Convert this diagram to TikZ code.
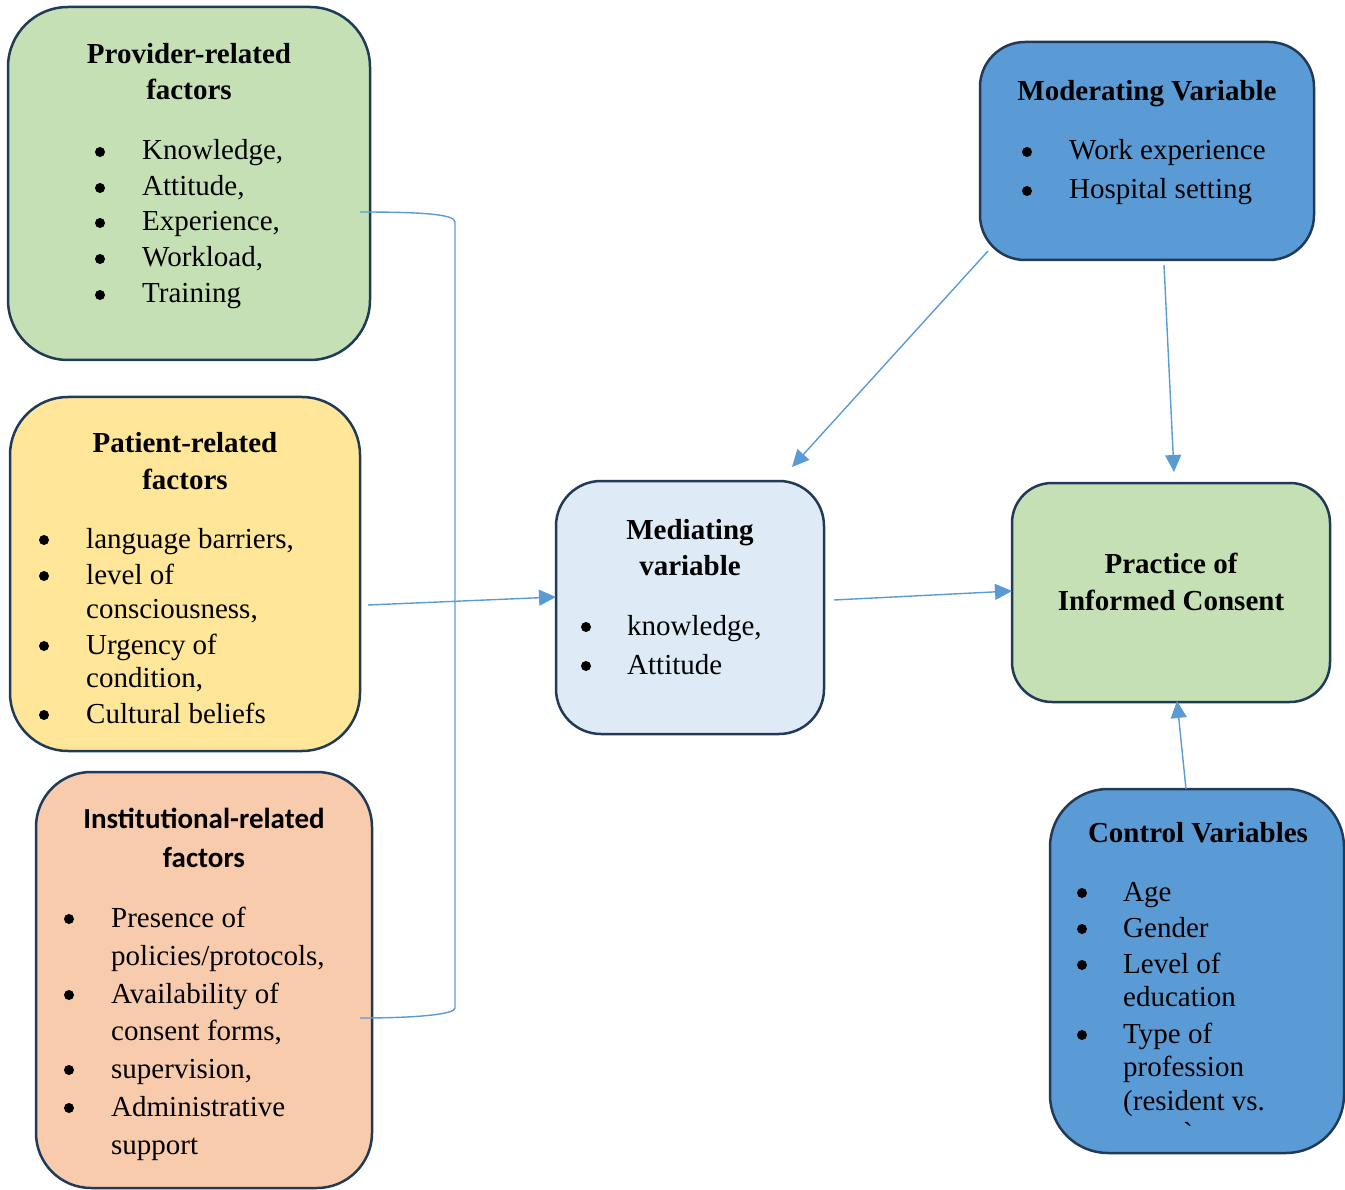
\documentclass[tikz,border=0pt]{standalone}
\usepackage{fontspec}
\setmainfont{Liberation Serif}
\newfontfamily\calibri{Carlito}
\usetikzlibrary{arrows.meta}
\definecolor{bordc}{HTML}{203A57}
\definecolor{lnk}{HTML}{5B9BD5}
\definecolor{gr}{HTML}{C5E0B4}
\definecolor{ye}{HTML}{FFE699}
\definecolor{pe}{HTML}{F8CBAD}
\definecolor{lb}{HTML}{DEEBF7}
\definecolor{mb}{HTML}{5B9BD5}
\tikzset{
  box/.style={draw=bordc, line width=2.5pt, inner sep=0pt},
  txt/.style={anchor=base west, inner sep=0pt, font=\fontsize{29}{36}\selectfont},
  hd/.style={anchor=base, inner sep=0pt, font=\fontsize{29}{36}\selectfont\bfseries},
  hdc/.style={anchor=base, inner sep=0pt, font=\fontsize{29}{36}\selectfont\calibri\bfseries},
  bul/.style={circle, fill=black, inner sep=0pt, minimum size=10pt, yshift=8pt},
  conn/.style={draw=lnk, line width=1.4pt},
  arr/.style={conn, -{Triangle[length=17pt,width=16pt]}}
}
\begin{document}
\begin{tikzpicture}[x=1pt,y=-1pt]
\useasboundingbox (0,0) rectangle (1345,1190);
% boxes
\node[box, fill=gr, rounded corners=60pt, minimum width=362pt, minimum height=353pt] (prov) at (189,183.5) {};
\node[box, fill=ye, rounded corners=58pt, minimum width=350pt, minimum height=354pt] (pat) at (185,574) {};
\node[box, fill=pe, rounded corners=55pt, minimum width=336pt, minimum height=416pt] (inst) at (204,980) {};
\node[box, fill=lb, rounded corners=45pt, minimum width=268pt, minimum height=253pt] (med) at (690,607.5) {};
\node[box, fill=mb, rounded corners=45pt, minimum width=334pt, minimum height=218pt] (mod) at (1147,151) {};
\node[box, fill=gr, rounded corners=40pt, minimum width=318pt, minimum height=219pt] (prac) at (1171,592.5) {};
\node[box, fill=mb, rounded corners=58pt, minimum width=294pt, minimum height=364pt] (ctrl) at (1197,971) {};

% provider text
\node[hd] (p-h1) at (189,64) {Provider-related};
\node[hd] (p-h2) at (189,100) {factors};
\foreach \yy/\t [count=\i] in {160/Knowledge{,}, 196/Attitude{,}, 231/Experience{,}, 267/Workload{,}, 303/Training}{
  \node[bul] (p-b\i) at (100,\yy) {};
  \node[txt] (p-t\i) at (142,\yy) {\t};
}

% patient text
\node[hd] (pa-h1) at (185,452) {Patient-related};
\node[hd] (pa-h2) at (185,489) {factors};
\node[bul] (pa-b1) at (44,548) {};
\node[bul] (pa-b2) at (44,584) {};
\node[bul] (pa-b3) at (44,654) {};
\node[bul] (pa-b4) at (44,723) {};
\node[txt] (pa-t1) at (86,548) {language barriers,};
\node[txt] (pa-t2) at (86,584) {level of};
\node[txt] (pa-t3) at (86,618) {consciousness,};
\node[txt] (pa-t4) at (86,654) {Urgency of};
\node[txt] (pa-t5) at (86,687) {condition,};
\node[txt] (pa-t6) at (86,723) {Cultural beliefs};

% institutional text
\node[hdc] (i-h1) at (204,828) {Institutional-related};
\node[hdc] (i-h2) at (204,867) {factors};
\node[bul] (i-b1) at (69,927) {};
\node[bul] (i-b2) at (69,1003) {};
\node[bul] (i-b3) at (69,1078) {};
\node[bul] (i-b4) at (69,1116) {};
\node[txt] (i-t1) at (111,927) {Presence of};
\node[txt] (i-t2) at (111,965) {policies/protocols,};
\node[txt] (i-t3) at (111,1003) {Availability of};
\node[txt] (i-t4) at (111,1040) {consent forms,};
\node[txt] (i-t5) at (111,1078) {supervision,};
\node[txt] (i-t6) at (111,1116) {Administrative};
\node[txt] (i-t7) at (111,1154) {support};

% mediating
\node[hd] (m-h1) at (690,539) {Mediating};
\node[hd] (m-h2) at (690,575) {variable};
\node[bul] (m-b1) at (586,635) {};
\node[bul] (m-b2) at (586,674) {};
\node[txt] (m-t1) at (627,635) {knowledge,};
\node[txt] (m-t2) at (627,674) {Attitude};

% moderating
\node[hd] (mo-h1) at (1147,101) {Moderating Variable};
\node[bul] (mo-b1) at (1027,160) {};
\node[bul] (mo-b2) at (1027,199) {};
\node[txt] (mo-t1) at (1069,160) {Work experience};
\node[txt] (mo-t2) at (1069,199) {Hospital setting};

% practice
\node[hd] (pr-h1) at (1171,573) {Practice of};
\node[hd] (pr-h2) at (1171,610) {Informed Consent};

% control
\node[hd] (c-h1) at (1198,842) {Control Variables};
\node[bul] (c-b1) at (1082,901) {};
\node[bul] (c-b2) at (1082,937) {};
\node[bul] (c-b3) at (1082,973) {};
\node[bul] (c-b4) at (1082,1043) {};
\node[txt] (c-t1) at (1123,901) {Age};
\node[txt] (c-t2) at (1123,937) {Gender};
\node[txt] (c-t3) at (1123,973) {Level of};
\node[txt] (c-t4) at (1123,1006) {education};
\node[txt] (c-t5) at (1123,1043) {Type of};
\node[txt] (c-t6) at (1123,1076) {profession};
\node[txt] (c-t7) at (1123,1110) {(resident vs.};
\node[txt] (c-t8) at (1183,1142) {ˋ};

% connector points
\coordinate (br1) at (360,212);
\coordinate (br2) at (360,1018);
\coordinate (s1) at (368,605);
\coordinate (e1) at (556,597);
\coordinate (s2) at (834,600);
\coordinate (e2) at (1012,591);
\coordinate (s3) at (988,251);
\coordinate (e3) at (792,467);
\coordinate (s4) at (1164,265);
\coordinate (e4) at (1174,472);
\coordinate (s5) at (1186,789);
\coordinate (e5) at (1177,701);

% bracket
\draw[conn] (br1) .. controls (420,212) and (455,214) .. (455,222) -- (455,1008) .. controls (455,1014) and (420,1018) .. (br2);
% arrows
\draw[arr] (s1) -- (e1);
\draw[arr] (s2) -- (e2);
\draw[arr] (s3) -- (e3);
\draw[arr] (s4) -- (e4);
\draw[arr] (s5) -- (e5);
\end{tikzpicture}
\end{document}
